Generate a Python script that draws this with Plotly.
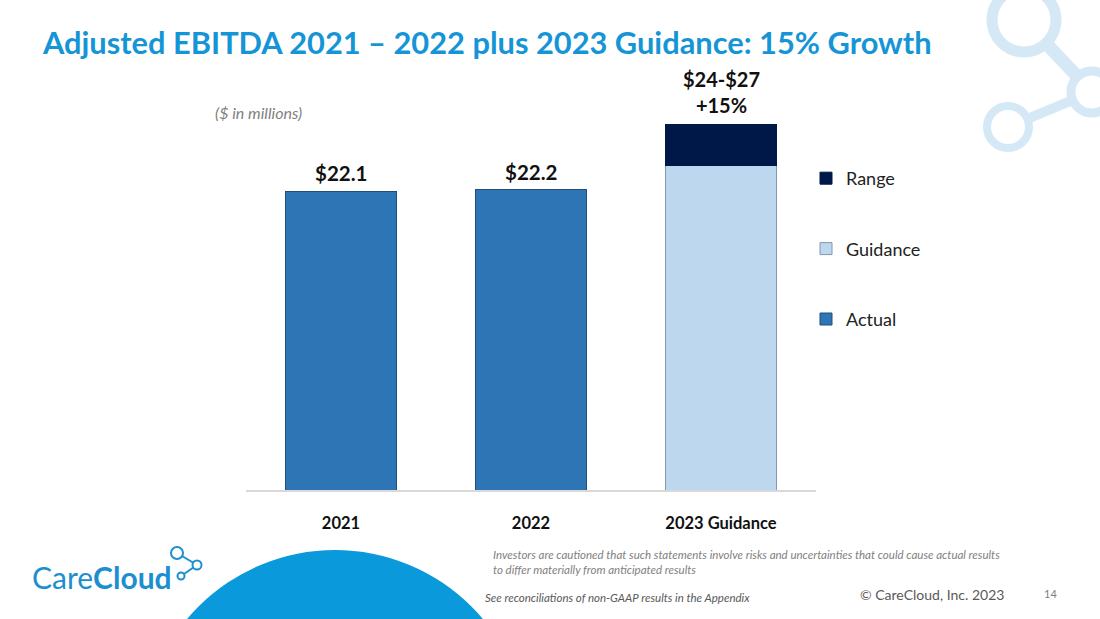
import plotly.graph_objects as go

# ($ in millions)
CATEGORIES = ["2021", "2022", "2023 Guidance"]
ACTUAL_X = ["2021", "2022"]
ACTUAL = [22.1, 22.2]
GUIDANCE_X = ["2023 Guidance"]
GUIDANCE = [24.0]
RANGE = [3.0]
GROWTH = "+15%"

TITLE = "Adjusted EBITDA 2021 \u2013 2022 plus 2023 Guidance: 15% Growth"
BLUE = "#1695D6"
W, H = 1100, 619
L, R, T, B = 246, 284, 118, 129
YMAX = 27.5


def px(x):
    return (x - L) / (W - L - R)


def py(y):
    return (H - B - y) / (H - T - B)


fig = go.Figure()
fig.add_trace(go.Bar(x=ACTUAL_X, y=ACTUAL, name="Actual", legendrank=3, legendgroup="a",
                     marker=dict(color="#2E75B6", line=dict(color="#1F4E79", width=1))))
fig.add_trace(go.Bar(x=GUIDANCE_X, y=GUIDANCE, name="Guidance", legendrank=2, legendgroup="g",
                     marker=dict(color="#BDD7EE", line=dict(color="#8497B0", width=1))))
fig.add_trace(go.Bar(x=GUIDANCE_X, y=RANGE, name="Range", legendrank=1, legendgroup="r",
                     marker=dict(color="#001848", line=dict(color="#001848", width=1))))

# value labels above the bars (category axis: annotations placed by category index)
for cat, v in zip(ACTUAL_X, ACTUAL):
    fig.add_annotation(x=CATEGORIES.index(cat), y=v, text=f"<b>${v:.1f}</b>", showarrow=False,
                       yanchor="bottom", yshift=4,
                       font=dict(family="Lato", size=20.5, color="#111"))
lo = GUIDANCE[0]
hi = GUIDANCE[0] + RANGE[0]
fig.add_annotation(x=CATEGORIES.index(GUIDANCE_X[0]), y=hi,
                   text=f"<b>${lo:.0f}-${hi:.0f}<br>{GROWTH}</b>",
                   showarrow=False, yanchor="bottom", yshift=6,
                   font=dict(family="Lato", size=20, color="#111"))

shapes = []
# bottom blue half circle
shapes.append(dict(type="circle", xref="paper", yref="paper", layer="below",
                   x0=px(335 - 193), x1=px(335 + 193), y0=py(743 + 193), y1=py(743 - 193),
                   fillcolor="#0A9ADB", line=dict(width=0)))
# top-right molecule decoration
DECO = "#D4E8F6"
shapes.append(dict(type="line", xref="paper", yref="paper", x0=px(1024), y0=py(20),
                   x1=px(1092), y1=py(92), line=dict(color=DECO, width=13)))
shapes.append(dict(type="line", xref="paper", yref="paper", x0=px(1008), y0=py(127),
                   x1=px(1092), y1=py(92), line=dict(color=DECO, width=10)))
for cx, cy, r, w in [(1024, 20, 32, 11), (1092, 92, 21, 9), (1008, 127, 21, 8)]:
    shapes.append(dict(type="circle", xref="paper", yref="paper",
                       x0=px(cx - r), x1=px(cx + r), y0=py(cy + r), y1=py(cy - r),
                       fillcolor="white", line=dict(color=DECO, width=w)))
# logo icon
LOGO = "#1B8FCF"
shapes.append(dict(type="line", xref="paper", yref="paper", x0=px(177), y0=py(553),
                   x1=px(197), y1=py(565), line=dict(color=LOGO, width=2)))
shapes.append(dict(type="line", xref="paper", yref="paper", x0=px(181), y0=py(576),
                   x1=px(197), y1=py(565), line=dict(color=LOGO, width=2)))
for cx, cy, r in [(177, 553, 6), (197, 565, 4.5), (181, 576, 3.5)]:
    shapes.append(dict(type="circle", xref="paper", yref="paper",
                       x0=px(cx - r), x1=px(cx + r), y0=py(cy + r), y1=py(cy - r),
                       fillcolor="white", line=dict(color=LOGO, width=2)))

texts = [
    dict(x=px(40), y=py(43), text=f"<b>{TITLE}</b>", xanchor="left", yanchor="middle",
         font=dict(family="Lato", size=30.8, color=BLUE)),
    dict(x=px(213), y=py(112), text="<i>($ in millions)</i>", xanchor="left", yanchor="middle",
         font=dict(family="Lato", size=16, color="#7F7F7F")),
    dict(x=px(30), y=py(577), text="Care<b>Cloud</b>", xanchor="left", yanchor="middle",
         font=dict(family="Lato", size=30, color=LOGO)),
    dict(x=px(491), y=py(562), text="<i>Investors are cautioned that such statements involve risks and uncertainties that could cause actual results<br>to differ materially from anticipated results</i>",
         xanchor="left", yanchor="middle", align="left",
         font=dict(family="Lato", size=11.5, color="#7F7F7F")),
    dict(x=px(483), y=py(597), text="<i>See reconciliations of non-GAAP results in the Appendix</i>",
         xanchor="left", yanchor="middle", font=dict(family="Lato", size=11.5, color="#595959")),
    dict(x=px(1006), y=py(594), text="\u00a9 CareCloud, Inc. 2023", xanchor="right", yanchor="middle",
         font=dict(family="Lato", size=14, color="#595959")),
    dict(x=px(1050), y=py(593), text="14", xanchor="center", yanchor="middle",
         font=dict(family="Lato", size=11, color="#7F7F7F")),
]
for t in texts:
    fig.add_annotation(xref="paper", yref="paper", showarrow=False, **t)

fig.update_layout(
    width=W, height=H, barmode="stack", bargap=0.415,
    plot_bgcolor="white", paper_bgcolor="white",
    margin=dict(l=L, r=R, t=T, b=B, autoexpand=False),
    shapes=shapes,
    showlegend=True,
    legend=dict(x=px(806), y=py(160), xanchor="left", yanchor="top",
                tracegroupgap=44,
                font=dict(family="Lato", size=18, color="#222"),
                itemwidth=30, bgcolor="rgba(0,0,0,0)"),
    xaxis=dict(type="category", categoryorder="array", categoryarray=CATEGORIES,
               range=[-0.5, len(CATEGORIES) - 0.5],
               showline=True, linecolor="#D9D9D9", linewidth=1.5,
               showgrid=False, ticks="", ticklabelstandoff=17,
               tickfont=dict(family="Lato", size=16.5, color="#111", weight="bold")),
    yaxis=dict(range=[0, YMAX], showgrid=False, showticklabels=False,
               zeroline=False, showline=False),
)

fig.write_html("out.html", config={"displayModeBar": False},
               post_script="document.body.style.margin='0';")
